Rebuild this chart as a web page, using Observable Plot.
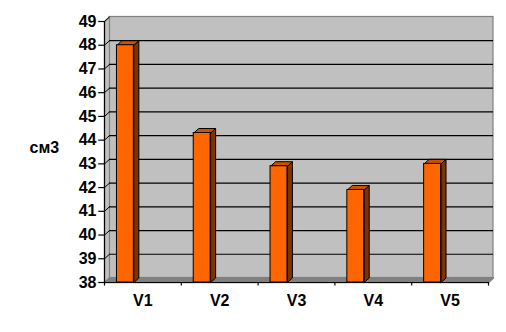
<!DOCTYPE html>
<html>
<head>
<meta charset="utf-8">
<script src="https://cdn.jsdelivr.net/npm/d3@7"></script>
<script src="https://cdn.jsdelivr.net/npm/@observablehq/plot@0.6"></script>
<style>
  html, body { margin: 0; padding: 0; background: #fff; }
</style>
</head>
<body>
<div id="chart"></div>
<script>
const categories = ["V1", "V2", "V3", "V4", "V5"];
const values = [48.0, 44.3, 42.9, 41.9, 43.0];
const yTicks = [38, 39, 40, 41, 42, 43, 44, 45, 46, 47, 48, 49];
const yLabel = "см3";

const Y0 = 38, Y1 = 49;
const N = categories.length;
const DX = 0.065;   // depth in x units
const DY = 0.19;    // depth in y units
const A = 0.162, B = 0.382; // front face within band

function poly(id, pts) {
  return pts.concat([pts[0]]).map(([x, y]) => ({id, x, y}));
}
const leftWall = poly("lw", [[0, Y0], [0, Y1], [DX, Y1 + DY], [DX, Y0 + DY]]);
const floor = poly("fl", [[0, Y0], [DX, Y0 + DY], [N + DX, Y0 + DY], [N, Y0]]);
const sides = [], tops = [], fronts = [];
values.forEach((v, i) => {
  sides.push(...poly("s" + i, [[i + B, Y0], [i + B, v], [i + B + DX, v + DY], [i + B + DX, Y0 + DY]]));
  tops.push(...poly("t" + i, [[i + A, v], [i + B, v], [i + B + DX, v + DY], [i + A + DX, v + DY]]));
  fronts.push({i, v});
});
const innerTicks = yTicks.filter(t => t > Y0 && t < Y1);
const FS = 16;

const chart = Plot.plot({
  width: 506,
  height: 332,
  marginLeft: 104,
  marginRight: 18,
  marginTop: 21,
  marginBottom: 50,
  x: {domain: [0, N], axis: null},
  y: {domain: [Y0, Y1], axis: null},
  style: {
    background: "#fff",
    color: "#000",
    fontFamily: "Arial, 'Liberation Sans', sans-serif",
    fontSize: FS + "px",
    fontWeight: "bold"
  },
  marks: [
    Plot.rect([0], {x1: DX, x2: N + DX, y1: Y0 + DY, y2: Y1 + DY, fill: "#c0c0c0", stroke: "#808080", strokeWidth: 1.2}),
    Plot.line(leftWall, {x: "x", y: "y", z: "id", fill: "#c0c0c0", stroke: "#808080", strokeWidth: 1.2, curve: "linear"}),
    Plot.ruleY(innerTicks, {y: d => d + DY, x1: DX, x2: N + DX, stroke: "#000", strokeWidth: 1.2}),
    Plot.link(innerTicks.concat([Y1]), {x1: 0, y1: d => d, x2: DX, y2: d => d + DY, stroke: "#000", strokeWidth: 1}),
    Plot.line(floor, {x: "x", y: "y", z: "id", fill: "#808080", stroke: "#808080", curve: "linear"}),
    Plot.line(sides, {x: "x", y: "y", z: "id", fill: "#803300", stroke: "#000", strokeWidth: 1, curve: "linear"}),
    Plot.line(tops, {x: "x", y: "y", z: "id", fill: "#cc5200", stroke: "#000", strokeWidth: 1, curve: "linear"}),
    Plot.rect(fronts, {x1: d => d.i + A, x2: d => d.i + B, y1: Y0, y2: d => d.v, fill: "#ff6600", stroke: "#000", strokeWidth: 1}),
    Plot.ruleX([0], {y1: Y0, y2: Y1, stroke: "#000", strokeWidth: 1.2}),
    Plot.ruleY(yTicks, {x1: -0.075, x2: 0, stroke: "#000", strokeWidth: 1.2}),
    Plot.text(yTicks, {x: 0, y: d => d, dx: -8, textAnchor: "end", fill: "#000", fontSize: FS, fontWeight: "bold"}),
    Plot.ruleY([Y0], {x1: 0, x2: N, stroke: "#000", strokeWidth: 1.2}),
    Plot.ruleX(d3.range(N + 1), {y1: Y0, y2: Y0 - 0.15, stroke: "#000", strokeWidth: 1.2}),
    Plot.text(categories, {x: (d, i) => i + 0.5, y: () => Y0, dy: 18, textAnchor: "middle", fill: "#000", fontSize: FS, fontWeight: "bold"}),
    Plot.text([yLabel], {frameAnchor: "left", dx: -75, dy: -4.5, textAnchor: "start", fill: "#000", fontSize: FS, fontWeight: "bold"})
  ]
});
document.getElementById("chart").appendChild(chart);
</script>
</body>
</html>
